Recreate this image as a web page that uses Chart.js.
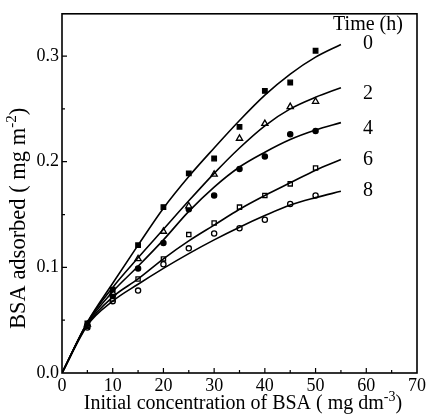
<!DOCTYPE html>
<html>
<head>
<meta charset="utf-8">
<script src="https://cdn.jsdelivr.net/npm/chart.js@4/dist/chart.umd.min.js"></script>
<style>
  html, body { margin: 0; padding: 0; background: #fff; }
  #wrap { width: 428px; height: 414px; }
</style>
</head>
<body>
<div id="wrap"><canvas id="bsaChart" width="428" height="414"></canvas></div>
<script>
// measured points (mg dm-3 vs mg m-2)
const concentrations = [5, 10, 15, 20, 25, 30, 35, 40, 45, 50];
const adsorbed0h = [0.047, 0.079, 0.121, 0.157, 0.189, 0.203, 0.233, 0.267, 0.275, 0.305];
const adsorbed2h = [0.046, 0.076, 0.108, 0.134, 0.158, 0.188, 0.222, 0.236, 0.252, 0.257];
const adsorbed4h = [0.045, 0.073, 0.099, 0.123, 0.155, 0.168, 0.193, 0.205, 0.226, 0.229];
const adsorbed6h = [0.044, 0.070, 0.089, 0.108, 0.131, 0.142, 0.157, 0.168, 0.179, 0.194];
const adsorbed8h = [0.043, 0.068, 0.078, 0.103, 0.118, 0.132, 0.137, 0.145, 0.160, 0.168];

// fitted curves
const fitConcentrations = [0, 5, 10, 15, 20, 25, 30, 35, 40, 45, 50, 55];
const fit0h = [0, 0.048, 0.085, 0.121, 0.156, 0.186, 0.213, 0.239, 0.263, 0.283, 0.299, 0.311];
const fit2h = [0, 0.048, 0.081, 0.109, 0.136, 0.163, 0.189, 0.213, 0.234, 0.250, 0.261, 0.270];
const fit4h = [0, 0.047, 0.077, 0.101, 0.126, 0.153, 0.176, 0.195, 0.209, 0.221, 0.230, 0.237];
const fit6h = [0, 0.046, 0.072, 0.089, 0.108, 0.125, 0.140, 0.155, 0.168, 0.180, 0.192, 0.202];
const fit8h = [0, 0.045, 0.068, 0.084, 0.099, 0.113, 0.126, 0.138, 0.149, 0.159, 0.166, 0.172];

const timeLabels = ["0", "2", "4", "6", "8"];
const xTicks = [0, 10, 20, 30, 40, 50, 60, 70];
const yTicks = [0.0, 0.1, 0.2, 0.3];

const SERIF = "'Liberation Serif', 'DejaVu Serif', serif";

const toXY = (xs, ys) => xs.map((x, i) => ({ x, y: ys[i] }));

function pointSet(ys, style, filled, radius) {
  return {
    type: "scatter",
    data: toXY(concentrations, ys),
    pointStyle: style,
    pointRadius: radius,
    pointBorderWidth: 1.3,
    pointBackgroundColor: filled ? "#000" : "#fff",
    pointBorderColor: "#000",
    showLine: false
  };
}

function fitSet(ys) {
  return {
    type: "line",
    data: toXY(fitConcentrations, ys),
    borderColor: "#000",
    borderWidth: 1.6,
    pointRadius: 0,
    fill: false,
    cubicInterpolationMode: "monotone"
  };
}

const fits = [fit0h, fit2h, fit4h, fit6h, fit8h];

// draws text with a small raised part, e.g. "mg m" + "-2" + ")"
function supText(ctx, parts, cx, cy, size) {
  const fonts = [size + "px " + SERIF, Math.round(size * 0.68) + "px " + SERIF, size + "px " + SERIF];
  const widths = parts.map((p, i) => { ctx.font = fonts[i]; return ctx.measureText(p).width; });
  let x = cx - (widths[0] + widths[1] + widths[2]) / 2;
  ctx.textAlign = "left";
  parts.forEach((p, i) => {
    ctx.font = fonts[i];
    ctx.fillText(p, x, i === 1 ? cy - size * 0.42 : cy);
    x += widths[i];
  });
}

// frame, inward ticks, axis titles, curve labels
const decorations = {
  id: "decorations",
  afterDraw(chart) {
    const { ctx, chartArea: a, scales: { x, y } } = chart;
    ctx.save();
    ctx.strokeStyle = "#000";
    ctx.lineWidth = 1.6;
    ctx.strokeRect(a.left, a.top, a.right - a.left, a.bottom - a.top);

    ctx.lineWidth = 1.2;
    ctx.beginPath();
    for (let v = 5; v < 70; v += 5) {
      const px = x.getPixelForValue(v);
      const len = v % 10 === 0 ? 5 : 3;
      ctx.moveTo(px, a.bottom);
      ctx.lineTo(px, a.bottom - len);
    }
    for (let v = 0.05; v < 0.34; v += 0.05) {
      const py = y.getPixelForValue(v);
      const len = Math.round(v * 100) % 10 === 0 ? 5 : 3;
      ctx.moveTo(a.left, py);
      ctx.lineTo(a.left + len, py);
    }
    ctx.stroke();

    ctx.fillStyle = "#000";
    ctx.textBaseline = "alphabetic";

    supText(ctx, ["Initial concentration of BSA ( mg dm", "-3", ")"], 243, 409, 20);

    ctx.save();
    ctx.translate(25, (a.top + a.bottom) / 2 + 25);
    ctx.rotate(-Math.PI / 2);
    supText(ctx, ["BSA adsorbed ( mg m", "-2", ")"], 0, 0, 22.5);
    ctx.restore();

    // curve labels
    ctx.font = "20px " + SERIF;
    ctx.textAlign = "center";
    ctx.fillText("Time (h)", 368, 30);
    ctx.textBaseline = "middle";
    const offsets = [-1, 6, 6, 0, -1];
    fits.forEach((f, i) => {
      const py = y.getPixelForValue(f[f.length - 1]) + offsets[i];
      ctx.fillText(timeLabels[i], 368, py);
    });
    ctx.restore();
  }
};

new Chart(document.getElementById("bsaChart"), {
  type: "scatter",
  data: {
    datasets: [
      fitSet(fit0h), fitSet(fit2h), fitSet(fit4h), fitSet(fit6h), fitSet(fit8h),
      pointSet(adsorbed0h, "rect", true, 3.2),
      pointSet(adsorbed2h, "triangle", false, 3.6),
      pointSet(adsorbed4h, "circle", true, 2.6),
      pointSet(adsorbed6h, "rect", false, 3),
      pointSet(adsorbed8h, "circle", false, 2.6)
    ]
  },
  options: {
    responsive: false,
    animation: false,
    layout: { padding: { top: 10, right: 8, left: 0, bottom: 0 } },
    plugins: { legend: { display: false }, tooltip: { enabled: false } },
    scales: {
      x: {
        type: "linear",
        min: 0,
        max: 70,
        afterBuildTicks: s => { s.ticks = xTicks.map(v => ({ value: v })); },
        afterFit: s => { s.height = 41; },
        grid: { display: false, drawTicks: false },
        border: { display: false },
        ticks: {
          color: "#000",
          padding: 2,
          font: { family: SERIF, size: 18 },
          maxRotation: 0
        }
      },
      y: {
        type: "linear",
        min: 0,
        max: 0.34,
        afterBuildTicks: s => { s.ticks = yTicks.map(v => ({ value: v })); },
        afterFit: s => { s.width = 62; },
        grid: { display: false, drawTicks: false },
        border: { display: false },
        ticks: {
          color: "#000",
          padding: 3,
          font: { family: SERIF, size: 18 },
          callback: v => Number(v).toFixed(1)
        }
      }
    }
  },
  plugins: [decorations]
});
</script>
</body>
</html>
